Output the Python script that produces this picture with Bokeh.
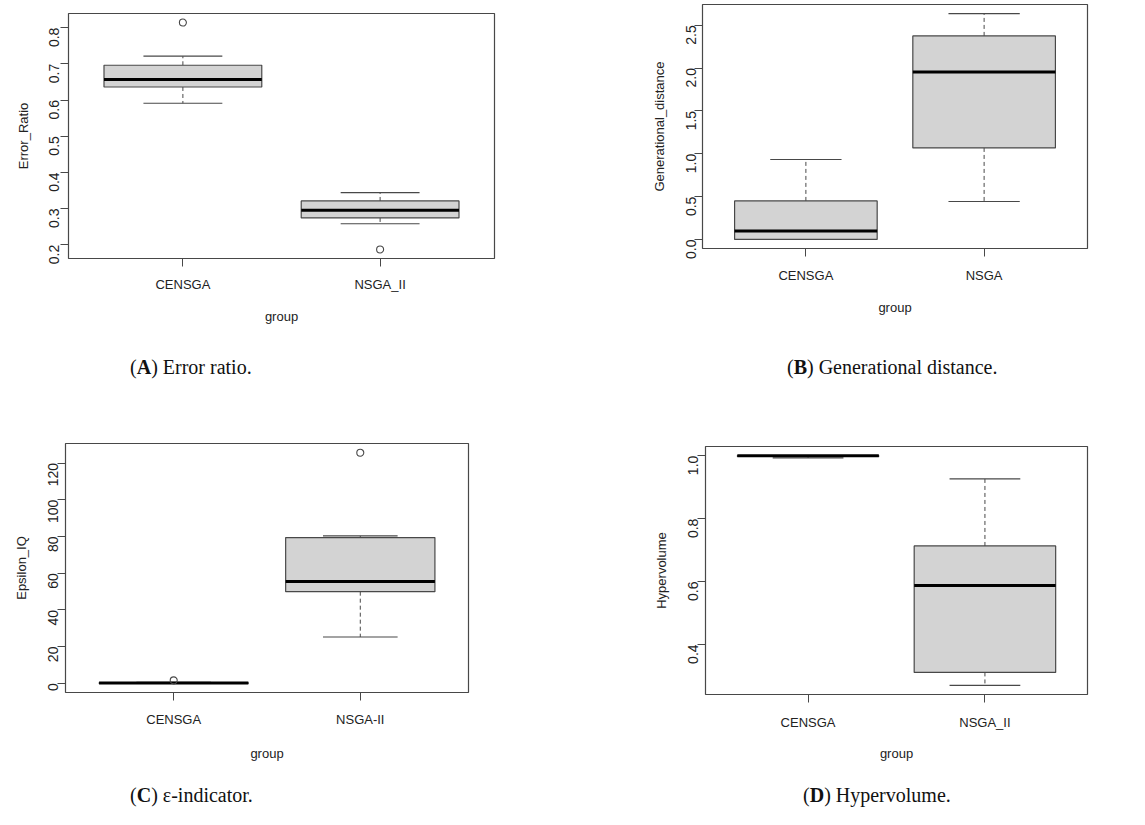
import math
from bokeh.plotting import figure
from bokeh.layouts import column, row
from bokeh.models import Div, FixedTicker, Range1d, PrintfTickFormatter
from bokeh.embed import file_html
from bokeh.resources import INLINE

# ---------------- data ----------------
groups_A = ["CENSGA", "NSGA_II"]
lower_A = [0.591, 0.258]
q1_A = [0.636, 0.274]
median_A = [0.657, 0.295]
q3_A = [0.696, 0.321]
upper_A = [0.721, 0.344]
outliers_A = [[0.814], [0.187]]
yticks_A = [0.2, 0.3, 0.4, 0.5, 0.6, 0.7, 0.8]
ylabel_A = "Error_Ratio"

groups_B = ["CENSGA", "NSGA"]
lower_B = [0.0, 0.443]
q1_B = [0.0, 1.068]
median_B = [0.10, 1.955]
q3_B = [0.45, 2.375]
upper_B = [0.933, 2.636]
outliers_B = [[], []]
yticks_B = [0.0, 0.5, 1.0, 1.5, 2.0, 2.5]
ylabel_B = "Generational_distance"

groups_C = ["CENSGA", "NSGA-II"]
lower_C = [0.0, 25.2]
q1_C = [0.0, 49.9]
median_C = [0.1, 55.5]
q3_C = [0.3, 79.4]
upper_C = [0.5, 80.3]
outliers_C = [[1.6], [125.6]]
yticks_C = [0, 20, 40, 60, 80, 100, 120]
ylabel_C = "Epsilon_IQ"

groups_D = ["CENSGA", "NSGA_II"]
lower_D = [0.993, 0.270]
q1_D = [0.998, 0.311]
median_D = [1.0, 0.587]
q3_D = [1.0, 0.713]
upper_D = [1.0, 0.926]
outliers_D = [[], []]
yticks_D = [0.4, 0.6, 0.8, 1.0]
ylabel_D = "Hypervolume"

xlabel = "group"
captions = [("A", "Error ratio."), ("B", "Generational distance."),
            ("C", "\u03b5-indicator."), ("D", "Hypervolume.")]

LINE = "#484848"
TEXT = "#222222"
SANS = "Liberation Sans"


def boxplot(groups, lower, q1, med, q3, upper, outs, yticks, ylabel, fmt,
            width, height, mb_left, mb_top, frame_w, frame_h,
            ylab_standoff, yaxis_standoff, xlab_standoff, xaxis_standoff):
    n = len(groups)
    xs = list(range(1, n + 1))
    allv = lower + upper + q1 + q3 + [v for o in outs for v in o]
    lo, hi = min(allv), max(allv)
    pad = 0.04 * (hi - lo)
    xpad = 0.04 * n
    p = figure(frame_width=frame_w, frame_height=frame_h, output_backend="svg",
               toolbar_location=None, title=None,
               x_range=Range1d(0.5 - xpad, n + 0.5 + xpad),
               y_range=Range1d(lo - pad, hi + pad),
               min_border_left=mb_left, min_border_top=mb_top,
               min_border_right=width - mb_left - frame_w,
               min_border_bottom=height - mb_top - frame_h)
    p.background_fill_color = "white"
    p.border_fill_color = "white"
    p.outline_line_color = LINE
    p.outline_line_width = 1.2
    p.xgrid.visible = False
    p.ygrid.visible = False

    bw = 0.8
    sw = 0.4
    # whiskers
    p.segment(x0=xs, y0=q3, x1=xs, y1=upper, line_color=LINE, line_width=1,
              line_dash="4 3")
    p.segment(x0=xs, y0=q1, x1=xs, y1=lower, line_color=LINE, line_width=1,
              line_dash="4 3")
    # staples
    p.segment(x0=[x - sw / 2 for x in xs], y0=upper, x1=[x + sw / 2 for x in xs],
              y1=upper, line_color=LINE, line_width=1.2)
    p.segment(x0=[x - sw / 2 for x in xs], y0=lower, x1=[x + sw / 2 for x in xs],
              y1=lower, line_color=LINE, line_width=1.2)
    # boxes
    p.quad(left=[x - bw / 2 for x in xs], right=[x + bw / 2 for x in xs],
           bottom=q1, top=q3, fill_color="#D3D3D3", line_color=LINE,
           line_width=1.2)
    # medians
    p.segment(x0=[x - bw / 2 for x in xs], y0=med, x1=[x + bw / 2 for x in xs],
              y1=med, line_color="black", line_width=3)
    # outliers
    ox = [x for x, o in zip(xs, outs) for _ in o]
    oy = [v for o in outs for v in o]
    if oy:
        p.scatter(x=ox, y=oy, marker="circle", size=7, fill_color=None,
                  line_color=LINE, line_width=1.1)

    xa = p.xaxis[0]
    xa.ticker = FixedTicker(ticks=xs)
    xa.major_label_overrides = {x: g for x, g in zip(xs, groups)}
    xa.bounds = (1, n)
    xa.axis_label = xlabel
    ya = p.yaxis[0]
    ya.ticker = FixedTicker(ticks=yticks)
    ya.formatter = PrintfTickFormatter(format=fmt)
    ya.bounds = (yticks[0], yticks[-1])
    ya.axis_label = ylabel
    ya.major_label_orientation = math.pi / 2
    for ax in (xa, ya):
        ax.axis_line_color = LINE
        ax.major_tick_line_color = LINE
        ax.minor_tick_line_color = None
        ax.major_tick_in = 0
        ax.major_tick_out = 8
        ax.major_label_text_font = SANS
        ax.major_label_text_color = TEXT
        ax.axis_label_text_font = SANS
        ax.axis_label_text_color = TEXT
        ax.axis_label_text_font_style = "normal"
        ax.axis_label_text_font_size = "13px"
    xa.major_label_text_font_size = "13px"
    ya.major_label_text_font_size = "14px"
    xa.major_label_standoff = xlab_standoff
    xa.axis_label_standoff = xaxis_standoff
    ya.major_label_standoff = ylab_standoff
    ya.axis_label_standoff = yaxis_standoff
    return p


pA = boxplot(groups_A, lower_A, q1_A, median_A, q3_A, upper_A, outliers_A,
             yticks_A, ylabel_A, "%.1f", 560, 330, 68, 13, 426, 245, 6, 11, 10, 14)
pB = boxplot(groups_B, lower_B, q1_B, median_B, q3_B, upper_B, outliers_B,
             yticks_B, ylabel_B, "%.1f", 585, 330, 142, 4, 385, 244, 3, 12, 11, 14)
pC = boxplot(groups_C, lower_C, q1_C, median_C, q3_C, upper_C, outliers_C,
             yticks_C, ylabel_C, "%d", 560, 350, 65, 33, 403, 249, 4, 12, 11, 16)
pD = boxplot(groups_D, lower_D, q1_D, median_D, q3_D, upper_D, outliers_D,
             yticks_D, ylabel_D, "%.1f", 585, 350, 145, 36, 382, 248, 4, 12, 12, 13)


def caption(letter, text, width, height, left, top):
    html = ('<div style="margin:0;padding-left:%dpx;padding-top:%dpx;'
            'font-family:\'Liberation Serif\',serif;font-size:20px;color:#111;'
            'line-height:22px;white-space:nowrap;">(<b>%s</b>) %s</div>'
            % (left, top, letter, text))
    return Div(text=html, width=width, height=height, margin=0)


capA = caption(*captions[0], 560, 80, 130, 26)
capB = caption(*captions[1], 585, 80, 227, 26)
capC = caption(*captions[2], 560, 65, 130, 21)
capD = caption(*captions[3], 585, 65, 243, 21)

layout = column(row(column(pA), column(pB)), row(capA, capB),
                row(column(pC), column(pD)), row(capC, capD))
open("out.html", "w").write(file_html(layout, INLINE))
